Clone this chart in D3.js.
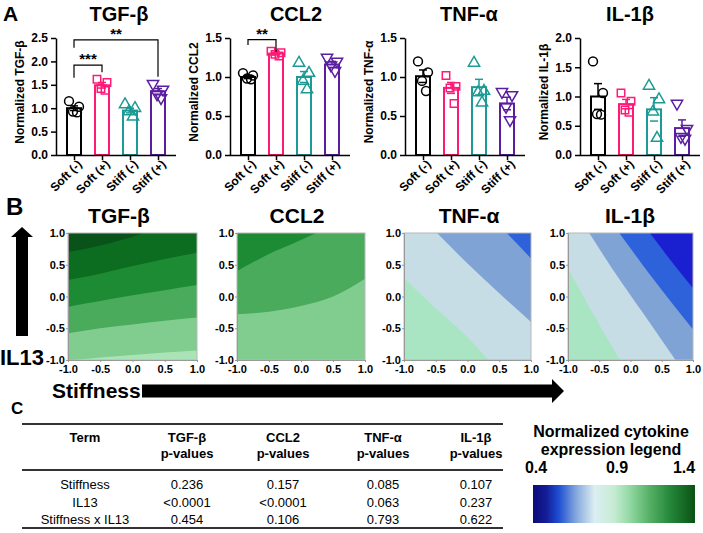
<!DOCTYPE html>
<html><head><meta charset="utf-8">
<script src="https://cdn.jsdelivr.net/npm/d3@7"></script>
<style>
body{margin:0;background:#fff}
svg{display:block}
text{font-family:"Liberation Sans",Arial,Helvetica,sans-serif}
</style>
</head><body>
<svg id="c" width="703" height="533"></svg>
<script>
// ---------------- DATA ----------------
const groups = ["Soft (-)", "Soft (+)", "Stiff (-)", "Stiff (+)"];
const groupColors = ["#000000", "#ff1a78", "#1b9a96", "#5b1ea0"];
const cytokines = ["TGF-β", "CCL2", "TNF-α", "IL-1β"];
const yLabels = ["Normalized TGF-β", "Normalized CCL2", "Normalized TNF-α", "Normalized IL-1β"];
const yMax = [2.5, 1.5, 1.5, 2.0];

// bar means per cytokine (groups order)
const tgfMeans = [1.00, 1.49, 0.95, 1.36];
const ccl2Means = [1.00, 1.30, 1.00, 1.16];
const tnfMeans = [1.01, 0.86, 0.87, 0.66];
const il1bMeans = [1.00, 0.87, 0.78, 0.46];
// SEM
const tgfSem = [0.05, 0.06, 0.05, 0.06];
const ccl2Sem = [0.02, 0.015, 0.07, 0.04];
const tnfSem = [0.08, 0.07, 0.10, 0.08];
const il1bSem = [0.22, 0.08, 0.20, 0.14];
// individual points
const tgfPoints = [[1.15, 1.03, 0.93, 0.91], [1.62, 1.55, 1.42, 1.38], [1.08, 1.00, 0.93, 0.82], [1.52, 1.40, 1.30, 1.22]];
const ccl2Points = [[1.05, 1.02, 0.98, 0.97], [1.33, 1.31, 1.29, 1.27], [1.18, 1.05, 0.95, 0.84], [1.25, 1.20, 1.15, 1.08]];
const tnfPoints = [[1.20, 1.06, 0.95, 0.82], [1.02, 0.88, 0.86, 0.66], [1.18, 0.82, 0.80, 0.67], [0.81, 0.77, 0.62, 0.45]];
const il1bPoints = [[1.60, 1.06, 0.70, 0.69], [1.06, 0.92, 0.77, 0.73], [1.18, 0.95, 0.74, 0.29], [0.88, 0.45, 0.31, 0.28]];
// significance brackets: panel, from group, to group, bar level, left/right drop ends, label
const sigBrackets = [
  {panel: 0, a: 0, b: 1, level: 1.92, endA: 1.65, endB: 1.77, label: "***"},
  {panel: 0, a: 0, b: 3, level: 2.46, endA: 2.29, endB: 1.67, label: "**"},
  {panel: 1, a: 0, b: 1, level: 1.48, endA: 1.41, endB: 1.32, label: "**"}
];

// Panel B contour boundaries (Stiffness, IL13) and band colours (lowest band first)
const axisTicksB = [-1.0, -0.5, 0.0, 0.5, 1.0];
const tgfBounds = [
  [[-1, -1.01], [-0.5, -0.96], [0, -0.92], [0.5, -0.88], [1, -0.85]],
  [[-1, -0.58], [-0.5, -0.50], [0, -0.44], [0.5, -0.38], [1, -0.33]],
  [[-1, -0.16], [-0.5, -0.07], [0, 0.02], [0.5, 0.10], [1, 0.18]],
  [[-1, 0.26], [-0.5, 0.36], [0, 0.48], [0.5, 0.59], [1, 0.69]],
  [[-1, 0.70], [-0.6, 0.78], [-0.2, 0.88], [0.17, 1.0]]
];
const tgfColors = ["#a9e3b6", "#80cd8f", "#4aab5c", "#1d8b33", "#0c6c1f", "#095219"];
const ccl2Bounds = [
  [[-1, -0.28], [-0.5, -0.24], [0, -0.15], [0.5, 0.0], [1, 0.28]],
  [[-1, 0.40], [-0.54, 0.65], [-0.02, 0.88], [0.24, 1.0]]
];
const ccl2Colors = ["#80cd8f", "#4aab5c", "#1d8b33"];
const tnfBounds = [
  [[-1, 0.29], [-0.5, -0.19], [0, -0.64], [0.33, -1]],
  [[-0.48, 1], [0, 0.52], [0.5, 0.05], [1, -0.40]],
  [[0.62, 1], [0.8, 0.81], [1, 0.60]]
];
const tnfColors = ["#a9e4c3", "#c6dde6", "#80a3d6", "#2e62da"];
const il1bBounds = [
  [[-1, 0.44], [-0.6, -0.27], [-0.17, -1]],
  [[-0.66, 1], [-0.3, 0.45], [0.2, -0.26], [0.72, -1]],
  [[-0.18, 1], [0.3, 0.36], [0.7, -0.15], [1, -0.52]],
  [[0.31, 1], [0.65, 0.56], [1, 0.13]]
];
const il1bColors = ["#a9e4c3", "#c6dde6", "#80a3d6", "#2e62da", "#1a1fd0"];

// Panel C table
const tableHeader1 = ["Term", "TGF-β", "CCL2", "TNF-α", "IL-1β"];
const tableHeader2 = ["", "p-values", "p-values", "p-values", "p-values"];
const tableTerms = ["Stiffness", "IL13", "Stiffness x IL13"];
const tablePvals = [["0.236", "0.157", "0.085", "0.107"], ["<0.0001", "<0.0001", "0.063", "0.237"], ["0.454", "0.106", "0.793", "0.622"]];

// Legend
const legendTicks = [0.4, 0.9, 1.4];
const legendStops = [
  [0.4, "#0c0c7a"], [0.48, "#141c96"], [0.56, "#1f4fd4"], [0.66, "#7fa3dc"], [0.78, "#dceef2"],
  [0.9, "#c6ecd4"], [1.0, "#90d8a2"], [1.12, "#55b065"], [1.25, "#23863a"], [1.4, "#0a5212"]
];

// ---------------- DRAW ----------------
const svg = d3.select("#c");
const FONT = '"Liberation Sans",Arial,sans-serif';

// Panel A
const allMeans = [tgfMeans, ccl2Means, tnfMeans, il1bMeans];
const allSem = [tgfSem, ccl2Sem, tnfSem, il1bSem];
const allPts = [tgfPoints, ccl2Points, tnfPoints, il1bPoints];
const axisXs = [56, 230, 405, 580];
const titleXs = [119, 296, 469, 630];
const symbols = [d3.symbolCircle, d3.symbolSquare, d3.symbolTriangle, d3.symbolTriangle];
const jitter = [-5, 5, -1, 3];

svg.append("text").attr("x", 3).attr("y", 21).attr("font-size", 21).attr("font-weight", "bold").text("A");
svg.append("text").attr("x", 6).attr("y", 215).attr("font-size", 24).attr("font-weight", "bold").text("B");
svg.append("text").attr("x", 11).attr("y", 414).attr("font-size", 17).attr("font-weight", "bold").text("C");

cytokines.forEach((name, p) => {
  const ax = axisXs[p];
  const g = svg.append("g");
  const x = d3.scalePoint().domain(groups).range([ax + 4, ax + 116]).padding(0.5);
  const y = d3.scaleLinear().domain([0, yMax[p]]).range([155, 38]);

  g.append("text").attr("x", titleXs[p]).attr("y", 21).attr("text-anchor", "middle")
    .attr("font-size", 20).attr("font-weight", "bold").text(name);

  const yAxis = g.append("g").attr("transform", `translate(${ax},0)`)
    .call(d3.axisLeft(y).tickValues(d3.range(0, yMax[p] + 0.001, 0.5)).tickFormat(d => d.toFixed(1)).tickSize(5).tickSizeOuter(0));
  yAxis.selectAll("path,line").attr("stroke", "#000").attr("stroke-width", 1.5);
  yAxis.selectAll("text").attr("font-size", 12).attr("font-weight", "bold").attr("font-family", FONT).attr("fill", "#000");

  g.append("text").attr("transform", `translate(${ax - 32},${92}) rotate(-90)`)
    .attr("text-anchor", "middle").attr("font-size", 12).attr("font-weight", "bold").text(yLabels[p]);

  // bars
  groups.forEach((grp, i) => {
    const cx = x(grp), col = groupColors[i];
    g.append("rect").attr("x", cx - 7).attr("y", y(allMeans[p][i])).attr("width", 14)
      .attr("height", y(0) - y(allMeans[p][i])).attr("fill", "#fff").attr("stroke", col).attr("stroke-width", 2);
  });
  // x axis
  const xAxis = g.append("g").attr("transform", `translate(0,155)`)
    .call(d3.axisBottom(x).tickSize(5).tickSizeOuter(0));
  xAxis.select(".domain").attr("d", `M${ax},0.5H${ax + 120}`).attr("stroke", "#000").attr("stroke-width", 1.5);
  xAxis.selectAll("line").attr("stroke", "#000").attr("stroke-width", 1.5);
  xAxis.selectAll("text").attr("font-size", 12).attr("font-weight", "bold").attr("font-family", FONT).attr("fill", "#000")
    .attr("text-anchor", "end").attr("transform", "translate(5,7) rotate(-45)").attr("dy", "0.35em").attr("y", 0).attr("x", 0);

  groups.forEach((grp, i) => {
    const cx = x(grp), col = groupColors[i];
    const m = allMeans[p][i], s = allSem[p][i];
    // error bars
    g.append("line").attr("x1", cx).attr("x2", cx).attr("y1", y(m)).attr("y2", y(m + s)).attr("stroke", col).attr("stroke-width", 1.5);
    g.append("line").attr("x1", cx - 4).attr("x2", cx + 4).attr("y1", y(m + s)).attr("y2", y(m + s)).attr("stroke", col).attr("stroke-width", 1.5);
    g.append("line").attr("x1", cx - 4).attr("x2", cx + 4).attr("y1", y(m - s)).attr("y2", y(m - s)).attr("stroke", col).attr("stroke-width", 1.5);
    // points
    allPts[p][i].forEach((v, k) => {
      g.append("path").attr("d", d3.symbol().type(symbols[i]).size(i === 0 ? 62 : 55)())
        .attr("transform", `translate(${cx + jitter[k]},${y(v)})` + (i === 3 ? " rotate(180)" : ""))
        .attr("fill", "none").attr("stroke", col).attr("stroke-width", 1.5);
    });
  });

  sigBrackets.filter(b => b.panel === p).forEach(b => {
    const xa = x(groups[b.a]), xb = x(groups[b.b]);
    g.append("path").attr("d", `M${xa},${y(b.endA)}V${y(b.level)}H${xb}V${y(b.endB)}`)
      .attr("fill", "none").attr("stroke", "#000").attr("stroke-width", 1.2);
    g.append("text").attr("x", (xa + xb) / 2).attr("y", y(b.level) - 1).attr("text-anchor", "middle")
      .attr("font-size", 15).attr("font-weight", "bold").text(b.label);
  });
});

// Panel B
const bPanels = [
  {name: "TGF-β", x0: 68, x1: 197, bounds: tgfBounds, colors: tgfColors, tx: 119},
  {name: "CCL2", x0: 237, x1: 365, bounds: ccl2Bounds, colors: ccl2Colors, tx: 297},
  {name: "TNF-α", x0: 404, x1: 531, bounds: tnfBounds, colors: tnfColors, tx: 469},
  {name: "IL-1β", x0: 568, x1: 693, bounds: il1bBounds, colors: il1bColors, tx: 630}
];
const defs = svg.append("defs");
bPanels.forEach((bp, p) => {
  const x = d3.scaleLinear().domain([-1, 1]).range([bp.x0, bp.x1]);
  const y = d3.scaleLinear().domain([-1, 1]).range([360, 233]);
  const g = svg.append("g");
  defs.append("clipPath").attr("id", "clipB" + p).append("rect")
    .attr("x", bp.x0).attr("y", 233).attr("width", bp.x1 - bp.x0).attr("height", 127);
  svg.append("text").attr("x", bp.tx).attr("y", 223).attr("text-anchor", "middle")
    .attr("font-size", 21).attr("font-weight", "bold").text(bp.name);
  const cg = g.append("g").attr("clip-path", `url(#clipB${p})`);
  cg.append("rect").attr("x", bp.x0).attr("y", 233).attr("width", bp.x1 - bp.x0).attr("height", 127).attr("fill", bp.colors[0]);
  const line = d3.line().x(d => x(d[0])).y(d => y(d[1])).curve(d3.curveMonotoneX);
  bp.bounds.forEach((bd, k) => {
    const first = bd[0], last = bd[bd.length - 1];
    const poly = line(bd) + `L${x(3)},${y(last[1])}L${x(3)},${y(3)}L${x(first[0])},${y(3)}Z`;
    cg.append("path").attr("d", poly).attr("fill", bp.colors[k + 1]);
  });
  g.append("rect").attr("x", bp.x0).attr("y", 233).attr("width", bp.x1 - bp.x0).attr("height", 127)
    .attr("fill", "none").attr("stroke", "#b8b8b8").attr("stroke-width", 1);
  const xa = g.append("g").attr("transform", "translate(0,360)")
    .call(d3.axisBottom(x).tickValues(axisTicksB).tickFormat(d => d.toFixed(1)).tickSize(2).tickSizeOuter(0));
  const ya = g.append("g").attr("transform", `translate(${bp.x0},0)`)
    .call(d3.axisLeft(y).tickValues(axisTicksB).tickFormat(d => d.toFixed(1)).tickSize(2).tickSizeOuter(0));
  [xa, ya].forEach(a => {
    a.selectAll("path,line").attr("stroke", "#999");
    a.selectAll("text").attr("font-size", 11).attr("font-weight", "bold").attr("font-family", FONT).attr("fill", "#000");
  });
  ya.selectAll("text").attr("x", -3);
});

// Arrows
svg.append("path").attr("d", "M16,336V237H11L22,227L33,237H28V336Z").attr("fill", "#000");
svg.append("text").attr("x", 0).attr("y", 365).attr("font-size", 22).attr("font-weight", "bold").text("IL13");
svg.append("text").attr("x", 52).attr("y", 398).attr("font-size", 21).attr("font-weight", "bold").text("Stiffness");
svg.append("path").attr("d", "M142,384.5H552V379L564,391L552,403V397.5H142Z").attr("fill", "#000");

// Panel C table
const colX = [85, 187, 283, 383, 476];
svg.append("line").attr("x1", 22).attr("x2", 503).attr("y1", 424).attr("y2", 424).attr("stroke", "#333").attr("stroke-width", 2);
svg.append("line").attr("x1", 22).attr("x2", 503).attr("y1", 470).attr("y2", 470).attr("stroke", "#333").attr("stroke-width", 2);
svg.append("line").attr("x1", 22).attr("x2", 503).attr("y1", 528).attr("y2", 528).attr("stroke", "#333").attr("stroke-width", 2);
tableHeader1.forEach((h, i) => {
  svg.append("text").attr("x", colX[i]).attr("y", 442).attr("text-anchor", "middle").attr("font-size", 13).attr("font-weight", "bold").text(h);
  svg.append("text").attr("x", colX[i]).attr("y", 458).attr("text-anchor", "middle").attr("font-size", 13).attr("font-weight", "bold").text(tableHeader2[i]);
});
const rowY = [489, 507, 524];
tableTerms.forEach((t, r) => {
  svg.append("text").attr("x", colX[0]).attr("y", rowY[r]).attr("text-anchor", "middle").attr("font-size", 13).text(t);
  tablePvals[r].forEach((v, c) => {
    svg.append("text").attr("x", colX[c + 1]).attr("y", rowY[r]).attr("text-anchor", "middle").attr("font-size", 13).text(v);
  });
});

// Legend
svg.append("text").attr("x", 611).attr("y", 437).attr("text-anchor", "middle").attr("font-size", 16).attr("font-weight", "bold").text("Normalized cytokine");
svg.append("text").attr("x", 611).attr("y", 455).attr("text-anchor", "middle").attr("font-size", 16).attr("font-weight", "bold").text("expression legend");
const lx = d3.scaleLinear().domain([0.4, 1.4]).range([533, 695]);
const grad = defs.append("linearGradient").attr("id", "lg").attr("x1", "0%").attr("x2", "100%");
legendStops.forEach(s => grad.append("stop").attr("offset", ((s[0] - 0.4) / 1.0 * 100) + "%").attr("stop-color", s[1]));
svg.append("rect").attr("x", lx(0.4)).attr("y", 485).attr("width", lx(1.4) - lx(0.4)).attr("height", 38).attr("fill", "url(#lg)");
legendTicks.forEach((t, i) => {
  svg.append("text").attr("x", lx(t) + (i === 0 ? 3 : i === 2 ? -11 : 3)).attr("y", 473).attr("text-anchor", "middle")
    .attr("font-size", 16).attr("font-weight", "bold").text(t.toFixed(1));
});
</script>
</body></html>
